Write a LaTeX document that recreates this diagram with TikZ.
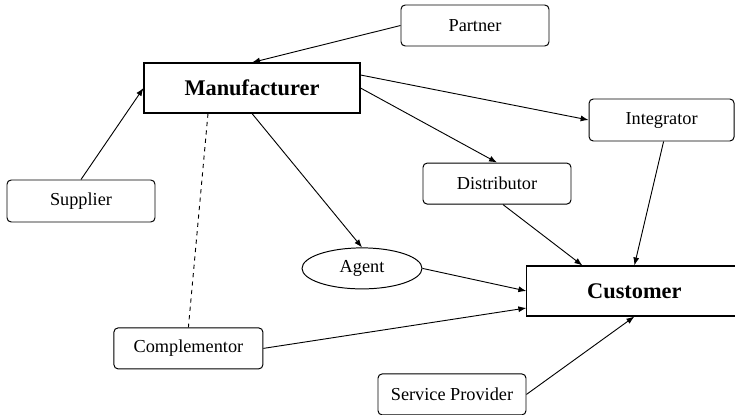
\documentclass[tikz,border=0pt]{standalone}
\usepackage{fontspec}
\setmainfont{Liberation Serif}
\usetikzlibrary{shapes.geometric,arrows.meta,positioning,calc}

\begin{document}
\begin{tikzpicture}[
    box/.style={draw=black, line width=0.7pt, rounded corners=3pt, fill=white, minimum width=3.7cm, minimum height=1.025cm, inner sep=2pt, font=\fontsize{13}{15}\selectfont},
    mainbox/.style={draw=black, line width=0.75pt, fill=white, minimum width=5.4cm, minimum height=1.25cm, inner sep=2pt, font=\fontsize{15.9}{18}\selectfont\bfseries},
    wire/.style={line width=0.65pt, -{Latex[length=2mm,width=1.5mm]}}
]
    \useasboundingbox (0,0) rectangle (18.375,-10.375);

    % Main actors
    \node[mainbox] (manu) at (6.3, -2.2) {Manufacturer};
    \node[mainbox, minimum width=5.375cm] (cust) at (15.86, -7.275) {Customer};

    % Surrounding actors
    \node[box] (partner) at (11.875, -0.6375) {Partner};
    \node[box, minimum width=3.625cm, minimum height=1.05cm] (integ) at (16.54, -3.0) {Integrator};
    \node[box] (distr) at (12.425, -4.59) {Distributor};
    \node[box, minimum height=1.05cm] (suppl) at (2.025, -5.025) {Supplier};
    \node[ellipse, draw=black, line width=0.7pt, minimum width=3.0cm, minimum height=1.025cm, inner sep=1pt, font=\fontsize{13}{15}\selectfont] (agent) at (9.05, -6.71) {Agent};
    \node[box, minimum width=3.725cm] (compl) at (4.71, -8.71) {Complementor};
    \node[box] (serv) at (11.3, -9.86) {Service Provider};

    % Wires into Manufacturer
    \draw[wire] (partner.west) -- (manu.north);
    \draw[wire] (suppl.north) -- (manu.west);

    % Wires out of Manufacturer
    \draw[wire] ([yshift=0.325cm]manu.east) -- (integ.west);
    \draw[wire] (manu.east) -- (distr.north);
    \draw[wire] (manu.south) -- (agent.north);
    \draw[line width=0.65pt, dashed] ([xshift=-1.1cm]manu.south) -- (compl.north);

    % Wires into Customer
    \draw[wire] ([xshift=0.15cm]distr.south) -- ([xshift=-1.3cm]cust.north);
    \draw[wire] ([xshift=0.05cm]integ.south) -- (cust.north);
    \draw[wire] (agent.east) -- (cust.west);
    \draw[wire] (compl.east) -- ([yshift=-0.425cm]cust.west);
    \draw[wire] (serv.east) -- (cust.south);

\end{tikzpicture}
\end{document}
